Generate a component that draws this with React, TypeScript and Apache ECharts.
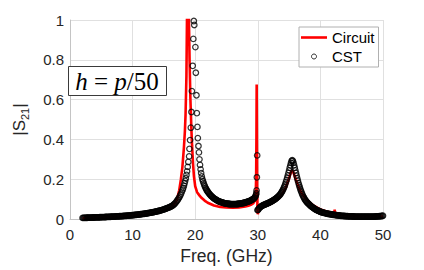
import React, { useEffect, useRef } from "react";
import * as echarts from "echarts";

const xTicks = [0, 10, 20, 30, 40, 50];
const yTicks = [0, 0.2, 0.4, 0.6, 0.8, 1];

const circuit: [number, number][] = [
  [2, 0.005], [3, 0.006], [4, 0.007], [5, 0.008], [6, 0.009], [7, 0.01], [8, 0.012], [9, 0.014],
  [10, 0.016], [11, 0.019], [12, 0.022], [13, 0.027], [14, 0.033], [15, 0.042], [15.5, 0.048],
  [16, 0.056], [16.5, 0.068], [17.0, 0.092], [17.2, 0.113], [17.45, 0.145], [17.7, 0.197],
  [17.95, 0.26], [18.2, 0.36], [18.35, 0.44], [18.46, 0.525], [18.6, 0.72], [18.7, 1.05],
  [18.8, 1.5], [18.9, 1.3], [19.0, 1.0], [19.1, 0.8], [19.23, 0.607], [19.4, 0.443], [19.5, 0.37],
  [19.65, 0.28], [19.8, 0.215], [20.0, 0.165], [20.3, 0.135], [20.7, 0.118], [21.0, 0.107],
  [21.5, 0.093], [22.0, 0.082], [23.0, 0.068], [24.0, 0.061], [25.0, 0.058], [26.0, 0.057],
  [27.0, 0.059], [28.0, 0.063], [28.5, 0.067], [29.0, 0.073], [29.3, 0.08], [29.5, 0.09],
  [29.65, 0.11], [29.73, 0.2], [29.78, 0.4], [29.82, 0.676], [29.86, 0.4], [29.9, 0.15],
  [29.95, 0.035], [30.0, 0.025], [30.1, 0.04], [30.3, 0.052], [30.6, 0.058], [31, 0.063],
  [31.5, 0.069], [32, 0.076], [32.5, 0.085], [33, 0.096], [33.5, 0.11], [34, 0.13], [34.5, 0.16],
  [35, 0.205], [35.25, 0.232], [35.45, 0.245], [35.6, 0.24], [35.8, 0.225], [36, 0.205],
  [36.3, 0.178], [36.6, 0.155], [37, 0.13], [37.5, 0.108], [38, 0.092], [38.5, 0.078], [39, 0.066],
  [39.5, 0.057], [40, 0.049], [40.5, 0.043], [41, 0.038], [41.5, 0.034], [42, 0.031], [42.2, 0.03],
  [42.28, 0.047], [42.36, 0.03], [42.5, 0.028], [43, 0.025], [43.5, 0.022], [44, 0.02],
  [45, 0.017], [46, 0.015], [47, 0.014], [48, 0.013], [49, 0.013], [50, 0.013],
];

const cst: [number, number][] = [
  [2.0, 0.006], [2.125, 0.0061], [2.25, 0.0062], [2.375, 0.0064], [2.5, 0.0066], [2.625, 0.0067],
  [2.75, 0.0069], [2.875, 0.007], [3.0, 0.0072], [3.125, 0.0073], [3.25, 0.0075], [3.375, 0.0076],
  [3.5, 0.0078], [3.625, 0.0079], [3.75, 0.0081], [3.875, 0.0082], [4.0, 0.0084], [4.125, 0.0085],
  [4.25, 0.0087], [4.375, 0.0088], [4.5, 0.009], [4.625, 0.0091], [4.75, 0.0093], [4.875, 0.0095],
  [5.0, 0.0096], [5.125, 0.0098], [5.25, 0.01], [5.375, 0.0101], [5.5, 0.0103], [5.625, 0.0105],
  [5.75, 0.0107], [5.875, 0.0108], [6.0, 0.011], [6.125, 0.0112], [6.25, 0.0114], [6.375, 0.0116],
  [6.5, 0.0118], [6.625, 0.012], [6.75, 0.0122], [6.875, 0.0124], [7.0, 0.0126], [7.125, 0.0128],
  [7.25, 0.013], [7.375, 0.0133], [7.5, 0.0135], [7.625, 0.0137], [7.75, 0.014], [7.875, 0.0142],
  [8.0, 0.0145], [8.125, 0.0147], [8.25, 0.015], [8.375, 0.0153], [8.5, 0.0156], [8.625, 0.0159],
  [8.75, 0.0162], [8.875, 0.0165], [9.0, 0.0168], [9.125, 0.0171], [9.25, 0.0175], [9.375, 0.0178],
  [9.5, 0.0182], [9.625, 0.0185], [9.75, 0.0189], [9.875, 0.0193], [10.0, 0.0197], [10.125, 0.0201],
  [10.25, 0.0205], [10.375, 0.0209], [10.5, 0.0214], [10.625, 0.0218], [10.75, 0.0223], [10.875, 0.0228],
  [11.0, 0.0233], [11.125, 0.0238], [11.25, 0.0243], [11.375, 0.0248], [11.5, 0.0254], [11.625, 0.026],
  [11.75, 0.0265], [11.875, 0.027], [12.0, 0.0276], [12.125, 0.0282], [12.25, 0.0288], [12.375, 0.0295],
  [12.5, 0.0302], [12.625, 0.0309], [12.75, 0.0316], [12.875, 0.0323], [13.0, 0.033], [13.125, 0.0338],
  [13.25, 0.0346], [13.375, 0.0354], [13.5, 0.0362], [13.625, 0.0371], [13.75, 0.038], [13.875, 0.0389],
  [14.0, 0.0398], [14.125, 0.0408], [14.25, 0.0418], [14.375, 0.0429], [14.5, 0.044], [14.625, 0.0452],
  [14.75, 0.0464], [14.875, 0.0477], [15.0, 0.049], [15.125, 0.0504], [15.25, 0.0518], [15.375, 0.0533],
  [15.5, 0.0548], [15.625, 0.0564], [15.75, 0.058], [15.875, 0.0597], [16.0, 0.0615], [16.125, 0.0635],
  [16.25, 0.0655], [16.375, 0.068], [16.5, 0.071], [16.625, 0.0745], [16.75, 0.078], [16.875, 0.083],
  [17.0, 0.088], [17.125, 0.0935], [17.25, 0.099], [17.375, 0.1055], [17.5, 0.112], [17.625, 0.12],
  [17.75, 0.128], [17.875, 0.138], [18.0, 0.148], [18.1, 0.157], [18.2, 0.168], [18.3, 0.18],
  [18.4, 0.192], [18.5, 0.205], [18.6, 0.222], [18.7, 0.24], [18.8, 0.262], [18.9, 0.287],
  [19.03, 0.315], [19.08, 0.353], [19.18, 0.397], [19.3, 0.459], [19.4, 0.538], [19.47, 0.643],
  [19.6, 0.77], [19.7, 0.905], [19.78, 0.995], [19.85, 0.975], [20.03, 0.864], [20.1, 0.735],
  [20.2, 0.622], [20.26, 0.532], [20.35, 0.463], [20.42, 0.407], [20.52, 0.367], [20.6, 0.335],
  [20.68, 0.3], [20.77, 0.272], [20.86, 0.25], [20.95, 0.231], [21.05, 0.214], [21.15, 0.2],
  [21.25, 0.19], [21.35, 0.181], [21.45, 0.172], [21.55, 0.164], [21.65, 0.157], [21.75, 0.151],
  [21.85, 0.145], [21.95, 0.14], [22.05, 0.136], [22.15, 0.132], [22.25, 0.127], [22.35, 0.124],
  [22.45, 0.12], [22.55, 0.117], [22.65, 0.114], [22.75, 0.111], [22.85, 0.108], [22.95, 0.105],
  [23.05, 0.103], [23.15, 0.101], [23.25, 0.099], [23.35, 0.097], [23.45, 0.095], [23.55, 0.093],
  [23.65, 0.091], [23.75, 0.09], [23.85, 0.088], [23.95, 0.087], [24.05, 0.086], [24.15, 0.085],
  [24.25, 0.084], [24.35, 0.083], [24.45, 0.082], [24.55, 0.081], [24.65, 0.08], [24.75, 0.079],
  [24.85, 0.079], [24.95, 0.078], [25.05, 0.078], [25.15, 0.077], [25.25, 0.077], [25.35, 0.076],
  [25.45, 0.076], [25.55, 0.076], [25.65, 0.075], [25.75, 0.075], [25.85, 0.075], [25.95, 0.075],
  [26.05, 0.075], [26.15, 0.075], [26.25, 0.075], [26.35, 0.075], [26.45, 0.075], [26.55, 0.075],
  [26.65, 0.076], [26.75, 0.076], [26.85, 0.076], [26.95, 0.077], [27.05, 0.077], [27.15, 0.078],
  [27.25, 0.078], [27.35, 0.079], [27.45, 0.079], [27.55, 0.08], [27.65, 0.081], [27.75, 0.081],
  [27.85, 0.082], [27.95, 0.083], [28.05, 0.084], [28.15, 0.085], [28.25, 0.086], [28.35, 0.087],
  [28.45, 0.088], [28.55, 0.089], [28.65, 0.09], [28.75, 0.092], [28.85, 0.093], [28.95, 0.095],
  [29.05, 0.097], [29.15, 0.099], [29.25, 0.101], [29.35, 0.103], [29.45, 0.106], [29.55, 0.11],
  [29.65, 0.116], [29.72, 0.123], [29.76, 0.13], [29.8, 0.144], [29.85, 0.21], [29.9, 0.32],
  [29.97, 0.045], [30.0, 0.046], [30.1, 0.05], [30.2, 0.054], [30.3, 0.058], [30.4, 0.061],
  [30.5, 0.063], [30.6, 0.065], [30.7, 0.067], [30.8, 0.069], [30.9, 0.07], [31.0, 0.072],
  [31.1, 0.073], [31.2, 0.074], [31.3, 0.076], [31.4, 0.077], [31.5, 0.078], [31.6, 0.08],
  [31.7, 0.081], [31.8, 0.083], [31.9, 0.084], [32.0, 0.086], [32.1, 0.088], [32.2, 0.089],
  [32.3, 0.091], [32.4, 0.093], [32.5, 0.095], [32.6, 0.097], [32.7, 0.099], [32.8, 0.101],
  [32.9, 0.104], [33.0, 0.106], [33.1, 0.109], [33.2, 0.112], [33.3, 0.115], [33.4, 0.118],
  [33.5, 0.121], [33.6, 0.125], [33.7, 0.13], [33.8, 0.135], [33.9, 0.14], [34.0, 0.146],
  [34.1, 0.153], [34.2, 0.16], [34.3, 0.168], [34.4, 0.177], [34.5, 0.187], [34.6, 0.197],
  [34.7, 0.208], [34.8, 0.22], [34.9, 0.232], [35.0, 0.245], [35.1, 0.258], [35.2, 0.27],
  [35.3, 0.282], [35.4, 0.292], [35.5, 0.296], [35.6, 0.292], [35.7, 0.283], [35.8, 0.271],
  [35.9, 0.258], [36.0, 0.245], [36.1, 0.232], [36.2, 0.218], [36.3, 0.205], [36.4, 0.193],
  [36.5, 0.181], [36.6, 0.17], [36.7, 0.16], [36.8, 0.15], [36.9, 0.141], [37.0, 0.133],
  [37.1, 0.125], [37.2, 0.118], [37.3, 0.112], [37.4, 0.106], [37.5, 0.1], [37.6, 0.095],
  [37.7, 0.091], [37.8, 0.087], [37.9, 0.083], [38.0, 0.08], [38.1, 0.077], [38.2, 0.074],
  [38.3, 0.071], [38.4, 0.068], [38.5, 0.065], [38.6, 0.063], [38.7, 0.06], [38.8, 0.058],
  [38.9, 0.056], [39.0, 0.053], [39.1, 0.051], [39.2, 0.049], [39.3, 0.047], [39.4, 0.046],
  [39.5, 0.044], [39.6, 0.043], [39.7, 0.041], [39.8, 0.04], [39.9, 0.038], [40.0, 0.037],
  [40.125, 0.0355], [40.25, 0.034], [40.375, 0.033], [40.5, 0.032], [40.625, 0.031], [40.75, 0.03],
  [40.875, 0.029], [41.0, 0.028], [41.125, 0.027], [41.25, 0.026], [41.375, 0.0255], [41.5, 0.025],
  [41.625, 0.0245], [41.75, 0.024], [41.875, 0.023], [42.0, 0.022], [42.125, 0.0215], [42.25, 0.021],
  [42.375, 0.0205], [42.5, 0.02], [42.625, 0.0195], [42.75, 0.019], [42.875, 0.0185], [43.0, 0.018],
  [43.125, 0.0175], [43.25, 0.017], [43.375, 0.0165], [43.5, 0.016], [43.625, 0.016], [43.75, 0.0155],
  [43.875, 0.0155], [44.0, 0.015], [44.125, 0.015], [44.25, 0.0145], [44.375, 0.0145], [44.5, 0.014],
  [44.625, 0.014], [44.75, 0.0138], [44.875, 0.0135], [45.0, 0.0133], [45.125, 0.0132], [45.25, 0.013],
  [45.375, 0.013], [45.5, 0.0128], [45.625, 0.0127], [45.75, 0.0125], [45.875, 0.0124], [46.0, 0.0123],
  [46.125, 0.0122], [46.25, 0.0122], [46.375, 0.0121], [46.5, 0.0121], [46.625, 0.012], [46.75, 0.012],
  [46.875, 0.012], [47.0, 0.012], [47.125, 0.012], [47.25, 0.012], [47.375, 0.012], [47.5, 0.012],
  [47.625, 0.012], [47.75, 0.0121], [47.875, 0.0121], [48.0, 0.0122], [48.125, 0.0123], [48.25, 0.0124],
  [48.375, 0.0125], [48.5, 0.0127], [48.625, 0.0128], [48.75, 0.013], [48.875, 0.0132], [49.0, 0.0134],
  [49.125, 0.0136], [49.25, 0.0139], [49.375, 0.0142], [49.5, 0.0146], [49.625, 0.015], [49.75, 0.0155],
  [49.875, 0.016], [50.0, 0.017],
];

const FONT = "'Liberation Sans', Arial, sans-serif";
const TXT = "#262626";

export default function App() {
  const ref = useRef<HTMLDivElement>(null);
  useEffect(() => {
    if (!ref.current) return;
    const chart = echarts.init(ref.current, undefined, { renderer: "svg" });
    chart.setOption({
      animation: false,
      backgroundColor: "#ffffff",
      grid: { left: 58, right: 41, top: 20, bottom: 47, containLabel: false },
      xAxis: {
        type: "value",
        min: xTicks[0],
        max: xTicks[xTicks.length - 1],
        interval: 10,
        name: "Freq. (GHz)",
        nameLocation: "middle",
        nameGap: 25,
        nameTextStyle: { fontFamily: FONT, fontSize: 17.5, color: TXT },
        axisLine: { show: true, lineStyle: { color: "#c4c4c4", width: 1 } },
        axisTick: { show: false },
        axisLabel: { fontFamily: FONT, fontSize: 15, color: TXT, margin: 8 },
        splitLine: { show: true, lineStyle: { color: "#e0e0e0", width: 1 } },
      },
      yAxis: {
        type: "value",
        min: yTicks[0],
        max: yTicks[yTicks.length - 1],
        interval: 0.2,
        name: "|S{sub|21}|",
        nameLocation: "middle",
        nameGap: 40,
        nameRotate: 90,
        nameTextStyle: {
          fontFamily: FONT,
          fontSize: 17,
          color: TXT,
          lineHeight: 22,
          rich: {
            sub: { fontFamily: FONT, fontSize: 11, color: TXT, verticalAlign: "bottom", lineHeight: 22, padding: [7, 0, 0, 0] },
          },
        },
        axisLine: { show: true, lineStyle: { color: "#c4c4c4", width: 1 } },
        axisTick: { show: false },
        axisLabel: { fontFamily: FONT, fontSize: 15, color: TXT, margin: 6 },
        splitLine: { show: true, lineStyle: { color: "#e0e0e0", width: 1 } },
      },
      legend: {
        orient: "vertical",
        left: 299,
        top: 27,
        padding: [3, 4, 3, 2],
        itemGap: 4,
        itemWidth: 26,
        itemHeight: 5,
        backgroundColor: "#ffffff",
        borderColor: "#b0b0b0",
        borderWidth: 1,
        borderRadius: 0,
        textStyle: { fontFamily: FONT, fontSize: 15, color: "#000" },
        data: [
          { name: "Circuit", icon: "path://M0,0 L26,0 L26,2.6 L0,2.6 Z", itemStyle: { color: "#ff0000" } },
          {
            name: "CST",
            icon: "circle",
            itemStyle: { color: "rgba(255,255,255,0)", borderColor: "#000", borderWidth: 1 },
          },
        ],
      },
      graphic: [
        {
          type: "rect",
          left: 68,
          top: 66,
          shape: { width: 98, height: 29 },
          style: { fill: "#ffffff", stroke: "#3a3a3a", lineWidth: 1 },
          z: 10,
        },
        {
          type: "text",
          x: 117,
          y: 81,
          z: 11,
          style: {
            text: "{i|h} = {i|p}/50",
            align: "center",
            verticalAlign: "middle",
            fontFamily: "'Liberation Serif', serif",
            fontSize: 25,
            fill: "#000",
            rich: {
              i: { fontFamily: "'Liberation Serif', serif", fontStyle: "italic", fontSize: 25, fill: "#000" },
            },
          },
        },
      ],
      series: [
        {
          name: "Circuit",
          type: "line",
          data: circuit,
          showSymbol: false,
          symbol: "none",
          lineStyle: { color: "#ff0000", width: 2.6 },
          itemStyle: { color: "#ff0000" },
          clip: true,
          z: 2,
        },
        {
          name: "CST",
          type: "scatter",
          data: cst,
          symbol: "circle",
          symbolSize: 5.5,
          itemStyle: { color: "rgba(255,255,255,0)", borderColor: "#000", borderWidth: 1.25 },
          clip: true,
          z: 3,
        },
      ],
    });
    return () => chart.dispose();
  }, []);
  return <div ref={ref} style={{ position: "fixed", left: 0, top: 0, width: 424, height: 270 }} />;
}
